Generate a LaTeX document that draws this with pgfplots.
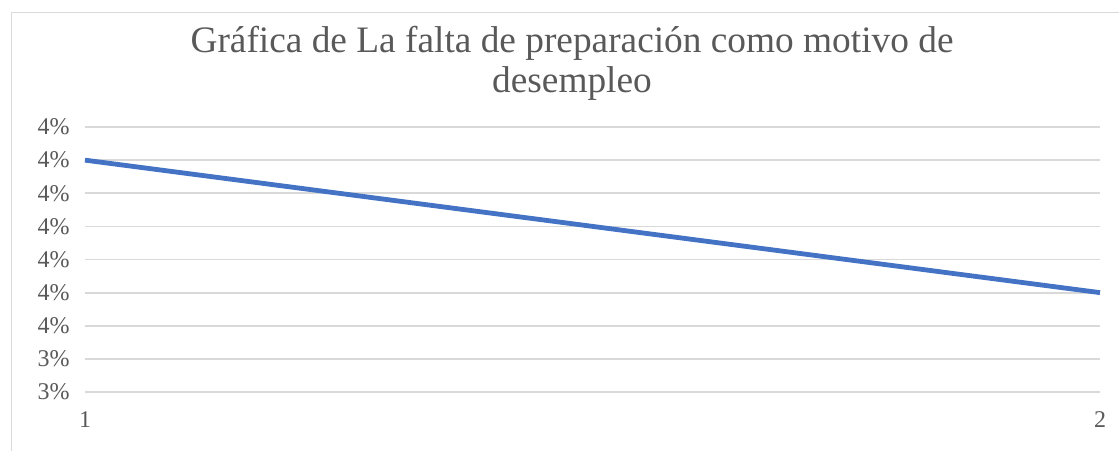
\documentclass[border=0pt]{standalone}
\usepackage{pgfplots}
\pgfplotsset{compat=1.18}
\usepackage{fontspec}
\setmainfont{Liberation Serif}
\definecolor{excelblue}{RGB}{68,114,196}
\definecolor{tickgray}{RGB}{89,89,89}
\definecolor{gridgray}{RGB}{217,217,217}
\begin{document}
\begin{tikzpicture}[x=0.75pt,y=0.75pt]
\useasboundingbox (0,0) rectangle (1119,451);
\draw[gridgray] (11,0) -- (11,439) -- (1119,439);
\begin{axis}[
  at={(85*0.75pt,59*0.75pt)}, anchor=south west,
  scale only axis, width=761.25pt, height=198.75pt,
  xmin=1, xmax=2, ymin=3.3, ymax=4.1,
  axis line style={draw=none},
  xtick={1,2}, xticklabels={1,2},
  ytick={3.3,3.4,3.5,3.6,3.7,3.8,3.9,4.0,4.1},
  yticklabels={3\%,3\%,4\%,4\%,4\%,4\%,4\%,4\%,4\%},
  tick style={draw=none},
  ymajorgrids, grid style={gridgray, line width=1.3pt},
  ticklabel style={font=\fontsize{18}{20}\selectfont, text=tickgray},
  yticklabel style={xshift=-8pt},
  xticklabel style={yshift=-11pt},
  clip=false,
]
\addplot[excelblue, line width=3.6pt] coordinates {(1,4.0) (2,3.6)};
\end{axis}
\node[align=center, text=tickgray, font=\fontsize{28}{30}\selectfont] at (572,388) {Gráfica de La falta de preparación como motivo de\\desempleo};
\end{tikzpicture}
\end{document}
